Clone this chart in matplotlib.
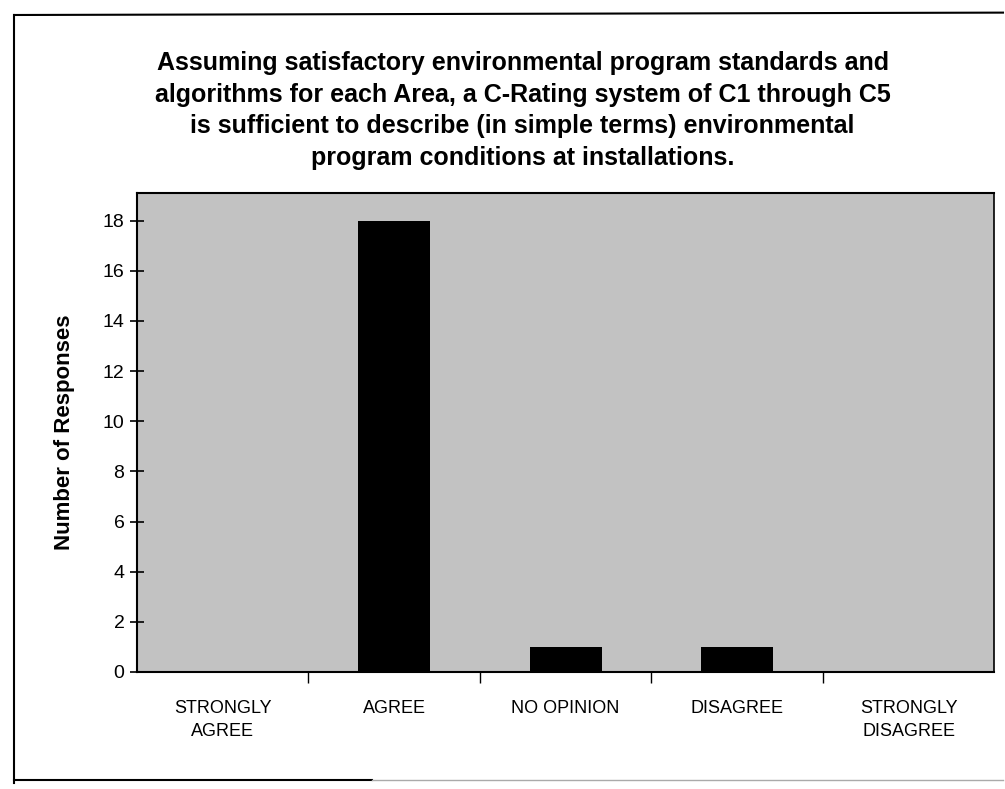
"""Survey response bar chart: C-Rating system sufficiency."""
import matplotlib
matplotlib.use("Agg")
import matplotlib.pyplot as plt
from matplotlib.lines import Line2D

categories = ["STRONGLY\nAGREE", "AGREE", "NO OPINION", "DISAGREE", "STRONGLY\nDISAGREE"]
responses = [0, 18, 1, 1, 0]
y_ticks = [0, 2, 4, 6, 8, 10, 12, 14, 16, 18]

title = ("Assuming satisfactory environmental program standards and\n"
         "algorithms for each Area, a C-Rating system of C1 through C5\n"
         "is sufficient to describe (in simple terms) environmental\n"
         "program conditions at installations.")

plt.rcParams["font.family"] = ["Liberation Sans", "DejaVu Sans"]

fig = plt.figure(figsize=(10.05, 7.89), dpi=100)
ax = fig.add_axes([0.1363, 0.1483, 0.853, 0.6071])

x = list(range(len(categories)))
ax.bar(x, responses, width=0.42, color="black", zorder=3)

ax.set_facecolor("#c2c2c2")
ax.set_xlim(-0.5, len(categories) - 0.5)
ax.set_ylim(0, 19.1)
ax.set_yticks(y_ticks)
ax.set_yticklabels([str(t) for t in y_ticks], fontsize=14)
ax.tick_params(axis="y", direction="inout", length=10, width=1.2, pad=4)

# category labels centred, ticks on category boundaries
ax.set_xticks(x)
ax.set_xticklabels(categories, fontsize=13, va="top", linespacing=1.5)
ax.tick_params(axis="x", length=0, pad=20)
ax.set_xticks([i + 0.5 for i in x[:-1]], minor=True)
ax.tick_params(axis="x", which="minor", direction="out", length=8, width=1)

for s in ax.spines.values():
    s.set_linewidth(1.5)
ax.spines["right"].set_linewidth(1.2)

ax.set_ylabel("Number of Responses", fontsize=16, fontweight="bold", labelpad=20)

fig.text(0.52, 0.935, title, ha="center", va="top", fontsize=18,
         fontweight="bold", linespacing=1.4)

# outer page frame
fig.add_artist(Line2D([0.014, 0.014], [0.008, 0.981], color="black", lw=1.5))
fig.add_artist(Line2D([0.014, 0.998], [0.981, 0.984], color="black", lw=1.5))
fig.add_artist(Line2D([0.014, 0.37], [0.011, 0.011], color="black", lw=1.5))
fig.add_artist(Line2D([0.37, 0.998], [0.011, 0.011], color="#aaaaaa", lw=1))

plt.savefig("out.png", dpi=100)
plt.close()
